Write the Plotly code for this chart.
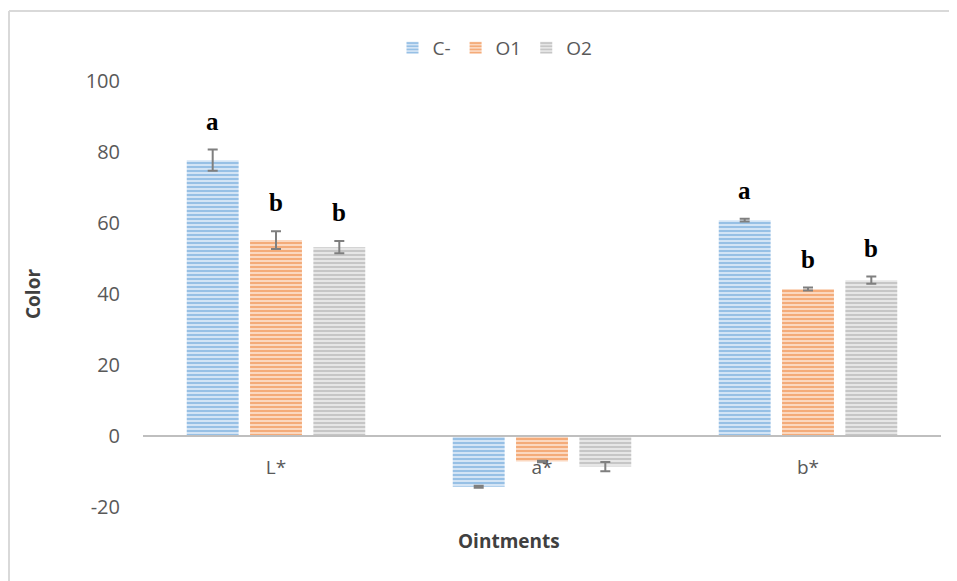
import plotly.graph_objects as go

categories = ["L*", "a*", "b*"]
series_names = ["C-", "O1", "O2"]
c_minus = [77.7, -14.3, 60.8]
o1 = [55.2, -7.2, 41.4]
o2 = [53.2, -8.6, 43.9]
c_minus_err = [3.0, 0.3, 0.4]
o1_err = [2.5, 0.2, 0.4]
o2_err = [1.7, 1.3, 1.0]
c_minus_letters = ["a", "", "a"]
o1_letters = ["b", "", "b"]
o2_letters = ["b", "", "b"]
y_tick_vals = [-20, 0, 20, 40, 60, 80, 100]
y_tick_text = ["-20", "0", "20", "40", "60", "80", "100"]

values = [c_minus, o1, o2]
errors = [c_minus_err, o1_err, o2_err]
letters = [c_minus_letters, o1_letters, o2_letters]
fg_colors = ["#5b9bd5", "#ed7d31", "#a5a5a5"]
bg_colors = ["#d3e4f5", "#fbd8c0", "#e6e6e6"]

# page body has an 8px offset
OFF = 8
W, H = 957, 581
PL, PR, PT, PB = 143, 941, 81, 507  # target plot-area edges in the window
ML, MR, MT, MB = PL - OFF, W - PR + OFF, PT - OFF, H - PB + OFF
pw = W - ML - MR
ph = H - MT - MB

BARGAP = 0.286
GROUPGAP = 0.18
slot = (1 - BARGAP) / 3

fig = go.Figure()
for name, vals, errs, fg, bg in zip(series_names, values, errors, fg_colors, bg_colors):
    fig.add_trace(go.Bar(
        name=name, x=categories, y=vals,
        marker=dict(color=bg, line=dict(width=0),
                    pattern=dict(shape="-", fgcolor=fg, bgcolor=bg, size=4, solidity=0.5)),
        error_y=dict(type="data", array=errs, color="#7f7f7f", thickness=2, width=5),
    ))

# significance letters above error bars
offsets = [-1, 0, 1]
for k, (vals, errs, labs) in enumerate(zip(values, errors, letters)):
    for i, (v, e, lab) in enumerate(zip(vals, errs, labs)):
        if lab:
            fig.add_annotation(
                x=i + offsets[k] * slot, y=v + e, xref="x", yref="y",
                text="<b>" + lab + "</b>", showarrow=False, yanchor="bottom", yshift=13,
                font=dict(family="Liberation Serif", size=25, color="#000000"),
            )

fig.update_layout(
    width=W, height=H,
    margin=dict(l=ML, r=MR, t=MT, b=MB, autoexpand=False),
    plot_bgcolor="white", paper_bgcolor="white",
    barmode="group", bargap=BARGAP, bargroupgap=GROUPGAP,
    font=dict(family="Open Sans", color="#595959", size=20),
    legend=dict(orientation="h", x=(495 - PL) / pw, xanchor="center",
                y=1 + (PT - 48) / ph, yanchor="middle",
                bgcolor="rgba(0,0,0,0)",
                font=dict(size=19, color="#595959"),
                traceorder="normal", itemwidth=30),
    showlegend=True,
)

fig.update_yaxes(
    range=[-20, 100], tickvals=y_tick_vals, ticktext=y_tick_text,
    showgrid=False, zeroline=False,
    showline=False, ticks="", ticklabelstandoff=22,
    tickfont=dict(size=20, color="#595959"),
    title=dict(text="<b>Color</b>", font=dict(size=19, color="#404040"), standoff=40),
)
fig.update_xaxes(
    anchor="free", position=20 / 120, showline=True, linecolor="#bfbfbf", linewidth=2,
    ticks="", showgrid=False, zeroline=False, ticklabelstandoff=14,
    tickfont=dict(size=19, color="#595959"),
)
fig.add_annotation(
    text="<b>Ointments</b>", xref="paper", yref="paper", x=(509 - PL) / pw,
    y=-(541 - PB) / ph,
    showarrow=False, font=dict(size=19, color="#404040"), yanchor="middle",
)

# outer chart border (top and left visible)
x_left = (9 - PL) / pw
y_top = 1 + (PT - 11) / ph
fig.add_shape(type="line", xref="paper", yref="paper", x0=x_left, x1=1 + 30 / pw,
              y0=y_top, y1=y_top, line=dict(color="#d9d9d9", width=2))
fig.add_shape(type="line", xref="paper", yref="paper", x0=x_left, x1=x_left,
              y0=y_top, y1=-MB / ph - 0.05, line=dict(color="#d9d9d9", width=2))

fig.write_html("out.html")
